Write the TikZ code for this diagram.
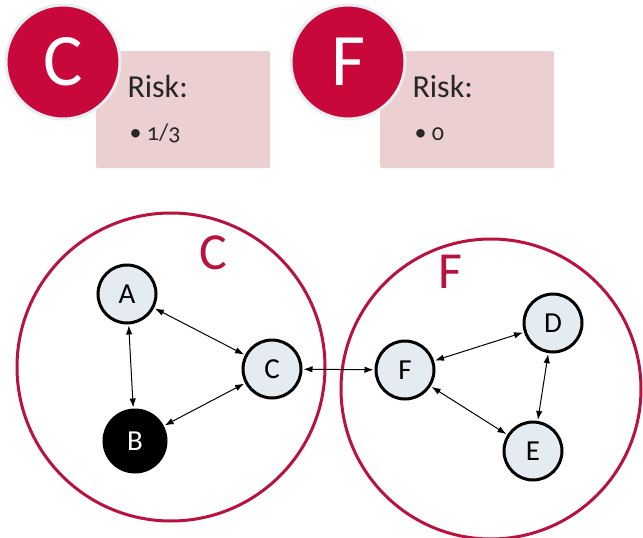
\documentclass[tikz,border=0pt]{standalone}
\usepackage{fontspec}
\setmainfont{Carlito}
\usetikzlibrary{arrows.meta}
\definecolor{crim}{HTML}{C8083A}
\definecolor{ringred}{HTML}{B8123F}
\definecolor{pinkbox}{HTML}{EBCFD1}
\definecolor{nodefill}{HTML}{E4ECF2}
\definecolor{halo}{HTML}{E8EDF2}
\tikzset{
  badge/.style={circle, fill=crim, draw=halo, line width=3pt, minimum size=114pt, inner sep=0pt, text=white, font=\fontsize{74}{74}\selectfont},
  riskbox/.style={fill=pinkbox, rounded corners=2pt, minimum width=174pt, minimum height=117pt, anchor=north west, inner sep=0pt},
  risktxt/.style={anchor=base west, font=\fontsize{32}{32}\selectfont, text=black!85},
  bullettxt/.style={anchor=base west, font=\fontsize{24}{24}\selectfont\addfontfeatures{Numbers=OldStyle}, text=black!85},
  ring/.style={circle, draw=ringred, line width=3pt, inner sep=0pt},
  ringlabel/.style={text=ringred, font=\fontsize{52}{52}\selectfont},
  vert/.style={circle, draw=black, line width=3pt, fill=nodefill, minimum size=58pt, inner sep=0pt, font=\fontsize{29}{29}\selectfont},
  link/.style={{Latex[length=9pt,width=6.5pt]}-{Latex[length=9pt,width=6.5pt]}, line width=1pt, shorten <=1pt, shorten >=1pt}
}
\begin{document}
\begin{tikzpicture}[x=1pt,y=-1pt]
\useasboundingbox (0,0) rectangle (643,538);
% top panels
\node[riskbox] (boxC) at (96,51) {};
\node[riskbox] (boxF) at (380,51) {};
\node[badge] (bC) at (63,62) {C};
\node[badge] (bF) at (348,62) {F};
\node[risktxt] (rC) at (124,97) {Risk:};
\node[bullettxt] (pC) at (126,140) {\textbullet\ 1/3};
\node[risktxt] (rF) at (409,97) {Risk:};
\node[bullettxt] (pF) at (411,140) {\textbullet\ 0};
% big rings
\node[ring, minimum size=308pt] (ringC) at (171,367) {};
\node[ring, minimum size=300pt] (ringF) at (491,389) {};
\node[ringlabel] (lC) at (213,253) {C};
\node[ringlabel] (lF) at (450,272) {F};
% vertices
\node[vert] (A) at (127,294) {A};
\node[vert, fill=black, text=white, minimum size=62pt] (B) at (135,441) {B};
\node[vert] (C) at (272,369) {C};
\node[vert] (F) at (405,370) {F};
\node[vert] (D) at (553,323) {D};
\node[vert] (E) at (533,451) {E};
% links
\draw[link] (A) -- (B);
\draw[link] (A) -- (C);
\draw[link] (B) -- (C);
\draw[link] (C) -- (F);
\draw[link] (F) -- (D);
\draw[link] (F) -- (E);
\draw[link] (D) -- (E);
\end{tikzpicture}
\end{document}
